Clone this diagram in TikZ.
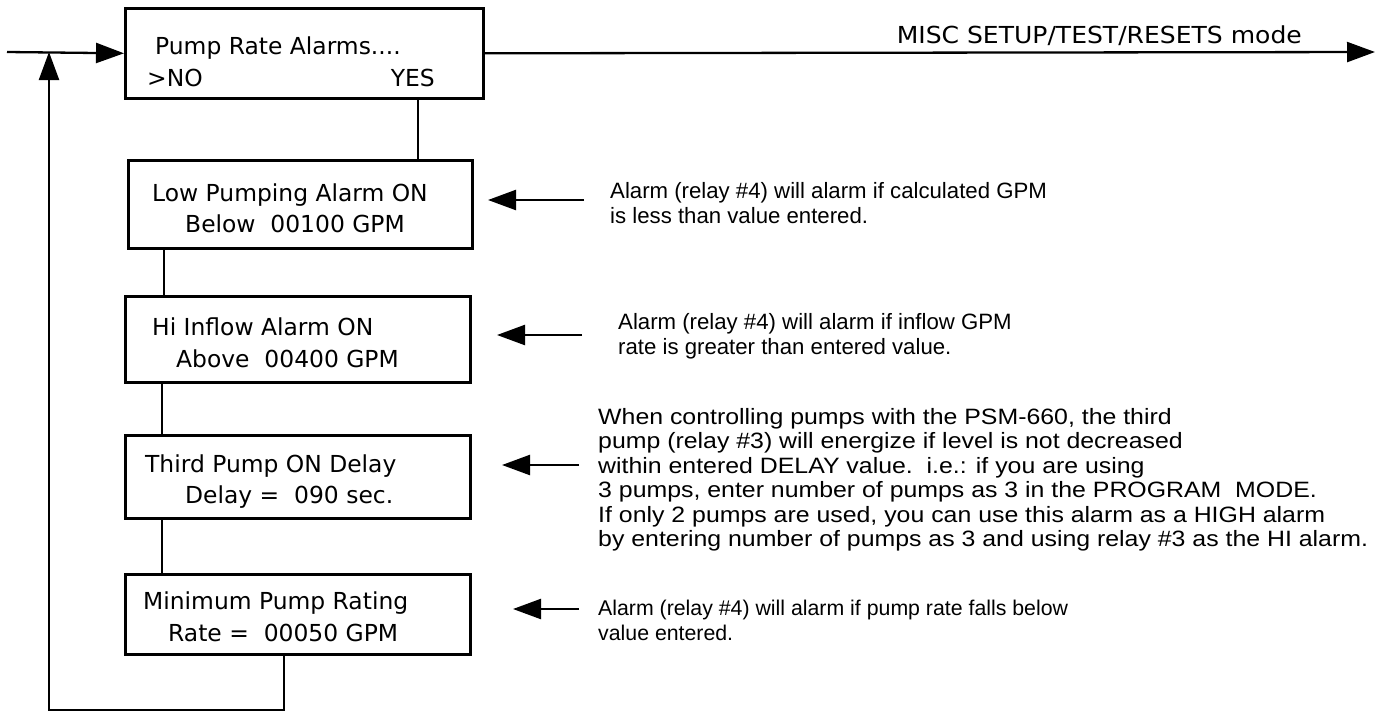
\documentclass[tikz,border=0pt]{standalone}
\usepackage{fontspec}
\setmainfont{DejaVu Sans}
\newfontfamily\arialf{Liberation Sans}
\usetikzlibrary{arrows.meta}
\begin{document}
\begin{tikzpicture}[x=1pt,y=-1pt,
  box/.style={draw,line width=2.6pt,inner sep=0pt,anchor=north west},
  lcd/.style={anchor=base west,inner sep=0pt,font=\fontsize{23.4}{28}\selectfont},
  note/.style={anchor=base west,inner sep=0pt,font=\arialf\fontsize{22.2}{25}\selectfont},
  notewide/.style={note,xscale=1.12},
  notesmall/.style={note,font=\arialf\fontsize{21.3}{25}\selectfont},
  conn/.style={line width=2.3pt},
  arr/.style={line width=2.3pt,-{Triangle[length=28pt,width=20pt]}},
]
\useasboundingbox (0,0) rectangle (1377,713);
% boxes
\node[box,minimum width=358pt,minimum height=90pt] (b1) at (124,7) {};
\node[box,minimum width=344pt,minimum height=88pt] (b2) at (127,159) {};
\node[box,minimum width=345pt,minimum height=86pt] (b3) at (124,295) {};
\node[box,minimum width=345pt,minimum height=83pt] (b4) at (124,434) {};
\node[box,minimum width=345pt,minimum height=80pt] (b5) at (124,573) {};
% box texts
\node[lcd] (t1a) at (155,54) {Pump Rate Alarms....};
\node[lcd] (t1b) at (147,86) {>NO};
\node[lcd,anchor=base east] (t1c) at (435,86) {YES};
\node[lcd] (t2a) at (152,201) {Low Pumping Alarm ON};
\node[lcd] (t2b) at (185,232) {Below\ \ 00100 GPM};
\node[lcd] (t3a) at (152,335) {Hi Inflow Alarm ON};
\node[lcd] (t3b) at (176,367) {Above\ \ 00400 GPM};
\node[lcd] (t4a) at (145,472) {Third Pump ON Delay};
\node[lcd] (t4b) at (185,503) {Delay =\ \ 090 sec.};
\node[lcd] (t5a) at (143,609) {Minimum Pump Rating};
\node[lcd] (t5b) at (168,641) {Rate =\ \ 00050 GPM};
% coordinates
\coordinate (xa) at (418,0);
\coordinate (xb) at (164,0);
\coordinate (xc) at (162,0);
\coordinate (br) at (284,710);
\coordinate (bl) at (49,710);
\coordinate (in) at (7,52);
\coordinate (out) at (1375,52);
% main flow
\draw[arr] (in) -- (b1.west);
\draw[arr] (b1.east) -- (out);
\node[lcd,anchor=base east,xscale=1.07] (misc) at (1302,43) {MISC SETUP/TEST/RESETS mode};
\draw[conn] (b1.south -| xa) -- (b2.north -| xa);
\draw[conn] (b2.south -| xb) -- (b3.north -| xb);
\draw[conn] (b3.south -| xc) -- (b4.north -| xc);
\draw[conn] (b4.south -| xc) -- (b5.north -| xc);
\draw[arr] (b5.south -| br) -- (br) -- (bl) -- (bl |- in);
% annotation arrows
\coordinate (a1s) at (584,200); \coordinate (a1e) at (488,200);
\coordinate (a2s) at (582,335); \coordinate (a2e) at (497,335);
\coordinate (a3s) at (579,465); \coordinate (a3e) at (502,465);
\coordinate (a4s) at (579,609); \coordinate (a4e) at (513,609);
\draw[arr] (a1s) -- (a1e);
\draw[arr] (a2s) -- (a2e);
\draw[arr] (a3s) -- (a3e);
\draw[arr] (a4s) -- (a4e);
% notes
\node[note] (n1a) at (610,198) {Alarm (relay \#4) will alarm if calculated GPM};
\node[note] (n1b) at (610,223) {is less than value entered.};
\node[note] (n2a) at (618,329) {Alarm (relay \#4) will alarm if inflow GPM};
\node[note] (n2b) at (618,354) {rate is greater than entered value.};
\node[notewide] (n3a) at (598,424) {When controlling pumps with the PSM-660, the third};
\node[notewide] (n3b) at (598,448.5) {pump (relay \#3) will energize if level is not decreased};
\node[notewide] (n3c) at (598,473) {within entered DELAY value.\ \ i.e.: if you are using};
\node[notewide] (n3d) at (598,497.5) {3 pumps, enter number of pumps as 3 in the PROGRAM\ \ MODE.};
\node[notewide] (n3e) at (598,522) {If only 2 pumps are used, you can use this alarm as a HIGH alarm};
\node[notewide] (n3f) at (598,546.5) {by entering number of pumps as 3 and using relay \#3 as the HI alarm.};
\node[notesmall] (n4a) at (598,615) {Alarm (relay \#4) will alarm if pump rate falls below};
\node[notesmall] (n4b) at (598,640) {value entered.};
\end{tikzpicture}
\end{document}
